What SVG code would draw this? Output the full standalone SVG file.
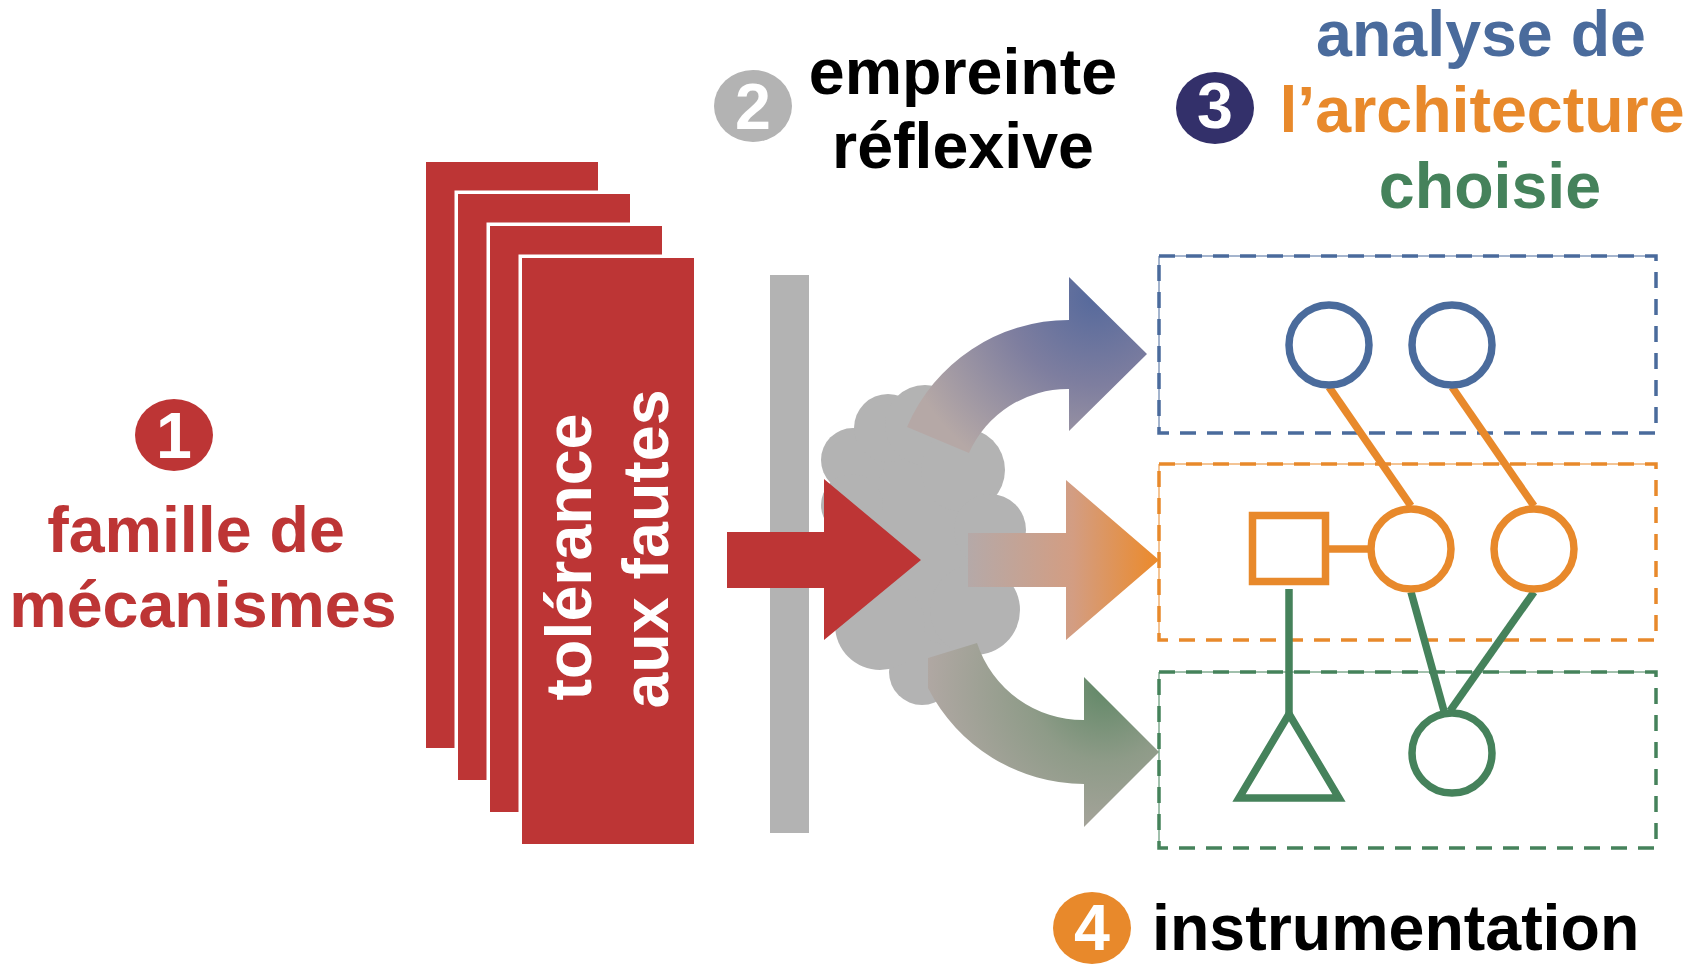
<svg xmlns="http://www.w3.org/2000/svg" width="1691" height="964" viewBox="0 0 1691 964">
<style>
text{font-family:"Liberation Sans",Arial,sans-serif;font-weight:bold;font-size:64.5px}
.mid{text-anchor:middle}
.wt{fill:#ffffff}
.red{fill:#bd3535}
.card{fill:#bd3535;stroke:#ffffff;stroke-width:7;paint-order:stroke}
.gray{fill:#b3b3b3}
.box{fill:none;stroke-width:3.5;stroke-dasharray:16 11}
.thin{fill:none;stroke-width:1}
.g{fill:none;stroke-width:7.5}
.bl{stroke:#4a6b9c}
.or{stroke:#e8892b}
.gr{stroke:#45825b}
</style>
<defs>
<linearGradient id="gOrange" gradientUnits="userSpaceOnUse" x1="968" y1="0" x2="1159" y2="0">
<stop offset="0" stop-color="#b5a9a8"/><stop offset="0.55" stop-color="#d39d82"/><stop offset="1" stop-color="#ec8a2a"/>
</linearGradient>
<radialGradient id="gBlue" gradientUnits="userSpaceOnUse" cx="1095" cy="295" r="200">
<stop offset="0" stop-color="#55699c"/><stop offset="0.45" stop-color="#7e7e9f"/><stop offset="1" stop-color="#b5a8a6"/>
</radialGradient>
<radialGradient id="gGreen" gradientUnits="userSpaceOnUse" cx="1105" cy="685" r="190">
<stop offset="0" stop-color="#618867"/><stop offset="0.4" stop-color="#8e9b88"/><stop offset="1" stop-color="#b4a9a6"/>
</radialGradient>
</defs>

<g id="label1">
<ellipse cx="174" cy="435" rx="39" ry="36" fill="#bd3535"/>
<text class="mid wt" x="174" y="458">1</text>
<text class="mid red" x="196" y="552">famille de</text>
<text class="mid red" x="203" y="627">mécanismes</text>
</g>

<g id="cards">
<rect class="card" x="426" y="162" width="172" height="586"/>
<rect class="card" x="458" y="194" width="172" height="586"/>
<rect class="card" x="490" y="226" width="172" height="586"/>
<rect class="card" x="522" y="258" width="172" height="586"/>
<text class="mid wt" transform="translate(591,557) rotate(-90)">tolérance</text>
<text class="mid wt" transform="translate(668,549) rotate(-90)">aux fautes</text>
</g>

<g id="label2">
<ellipse cx="753" cy="106" rx="39" ry="36" fill="#b3b3b3"/>
<text class="mid wt" x="753" y="129">2</text>
<text class="mid" x="963" y="94" fill="#000">empreinte</text>
<text class="mid" x="963" y="168" fill="#000">réflexive</text>
</g>

<g id="barrier">
<rect class="gray" x="770" y="275" width="39" height="558"/>
</g>

<g id="cloud" class="gray">
<ellipse cx="915" cy="545" rx="88" ry="125"/>
<circle cx="853" cy="460" r="32"/>
<circle cx="888" cy="428" r="34"/>
<circle cx="925" cy="425" r="40"/>
<circle cx="963" cy="470" r="42"/>
<circle cx="990" cy="530" r="36"/>
<circle cx="975" cy="610" r="45"/>
<circle cx="922" cy="672" r="33"/>
<circle cx="880" cy="625" r="45"/>
<circle cx="852" cy="505" r="31"/>
</g>

<g id="connectors">
<path d="M727,532 H824 V479 L921,560 L824,640 V588 H727 Z" fill="#bd3535"/>
<path d="M968,533 H1066 V480 L1159,560 L1066,640 V587 H968 Z" fill="url(#gOrange)"/>
<path d="M907,427 A176,176 0 0 1 1069,320 V277 L1147,354 L1069,431 V389 A108,108 0 0 0 969,453 Z" fill="url(#gBlue)"/>
<path d="M977,643 L928,658 V688 A176,176 0 0 0 1084,784 V827 L1159,752 L1084,677 V720 A112,112 0 0 1 977,643 Z" fill="url(#gGreen)"/>
</g>

<g id="label3">
<ellipse cx="1215" cy="108" rx="39" ry="36" fill="#33306a"/>
<text class="mid wt" x="1215" y="128">3</text>
<text class="mid" x="1481" y="56" fill="#4a6b9c">analyse de</text>
<text class="mid" x="1482" y="132" fill="#e8892b">l’architecture</text>
<text class="mid" x="1490" y="208" fill="#45825b">choisie</text>
</g>

<g id="layers">
<rect class="box bl" x="1159" y="256" width="497" height="177"/>
<polyline class="thin bl" points="1159,433 1159,256 1656,256"/>
<rect class="box or" x="1159" y="464" width="497" height="176"/>
<polyline class="thin or" points="1159,640 1159,464 1656,464"/>
<rect class="box gr" x="1159" y="672" width="497" height="176"/>
<polyline class="thin gr" points="1159,848 1159,672 1656,672"/>
</g>

<g id="graph-edges">
<line class="g or" x1="1329" y1="387" x2="1411" y2="506"/>
<line class="g or" x1="1452" y1="387" x2="1534" y2="506"/>
<line class="g or" x1="1329" y1="549" x2="1369" y2="549"/>
<line class="g gr" x1="1289" y1="589" x2="1289" y2="714"/>
<line class="g gr" x1="1411" y1="592" x2="1444" y2="711"/>
<line class="g gr" x1="1534" y1="592" x2="1450" y2="711"/>
</g>

<g id="node-b1"><circle class="g bl" cx="1329" cy="345" r="40"/></g>
<g id="node-b2"><circle class="g bl" cx="1452" cy="345" r="40"/></g>
<g id="node-sq"><rect class="g or" x="1252.5" y="515.5" width="73" height="66"/></g>
<g id="node-o1"><circle class="g or" cx="1411" cy="549" r="40"/></g>
<g id="node-o2"><circle class="g or" cx="1534" cy="549" r="40"/></g>
<g id="node-tri"><polygon class="g gr" points="1289,714 1339,798 1239,798"/></g>
<g id="node-g1"><circle class="g gr" cx="1452" cy="753" r="40"/></g>

<g id="label4">
<ellipse cx="1092" cy="928" rx="39" ry="36" fill="#e8892b"/>
<text class="mid wt" x="1092" y="950">4</text>
<text x="1152" y="950" fill="#000">instrumentation</text>
</g>
</svg>
